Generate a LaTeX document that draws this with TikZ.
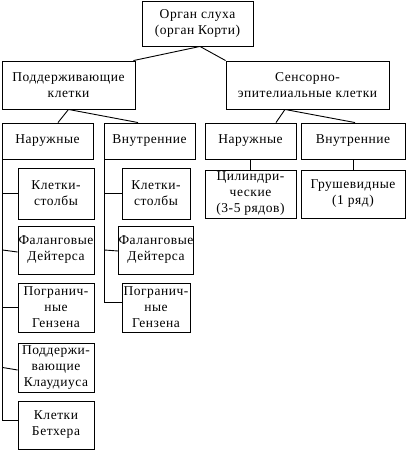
\documentclass[tikz,border=0pt]{standalone}
\usepackage{fontspec}
\setmainfont{Liberation Serif}[LetterSpace=4]
\begin{document}
\begin{tikzpicture}[x=1pt,y=-1pt,
  box/.style={draw=black,line width=0.9pt,align=center,inner sep=0pt,
    font=\fontsize{13.5}{16}\selectfont},
  link/.style={draw=black,line width=0.9pt}]
\useasboundingbox (0,0) rectangle (408,451);
\node[box,minimum width=111pt,minimum height=45pt] (top) at (197.5,23.5) {Орган слуха\\(орган Корти)};
\node[box,minimum width=133pt,minimum height=48pt] (pod) at (68.5,85) {Поддерживающие\\клетки};
\node[box,minimum width=163pt,minimum height=48pt] (sens) at (307.5,85) {Сенсорно-\\эпителиальные клетки};
\node[box,minimum width=91pt,minimum height=36pt] (nar1) at (47.5,141) {Наружные};
\node[box,minimum width=91pt,minimum height=36pt] (vnu1) at (149.5,141) {Внутренние};
\node[box,minimum width=91pt,minimum height=36pt] (nar2) at (250.5,141) {Наружные};
\node[box,minimum width=104pt,minimum height=36pt] (vnu2) at (353,141) {Внутренние};
\node[box,minimum width=91pt,minimum height=48pt] (cyl) at (250.5,194) {Цилиндри-\\ческие\\(3-5 рядов)};
\node[box,minimum width=104pt,minimum height=48pt] (gru) at (353,194) {Грушевидные\\(1 ряд)};
% left column
\node[box,minimum width=76pt,minimum height=51pt] (k1) at (56,193.5) {Клетки-\\столбы};
\node[box,minimum width=76pt,minimum height=48pt] (f1) at (56,250) {Фаланговые\\Дейтерса};
\node[box,minimum width=76pt,minimum height=49pt] (p1) at (56,307.5) {Погранич-\\ные\\Гензена};
\node[box,minimum width=76pt,minimum height=49pt] (c1) at (56,367.5) {Поддержи-\\вающие\\Клаудиуса};
\node[box,minimum width=76pt,minimum height=48pt] (b1) at (56,425) {Клетки\\Бетхера};
% middle column
\node[box,minimum width=68pt,minimum height=51pt] (k2) at (156,193.5) {Клетки-\\столбы};
\node[box,minimum width=68pt,minimum height=48pt] (f2) at (156,250) {Фаланговые\\Дейтерса};
\node[box,minimum width=68pt,minimum height=49pt] (p2) at (156,307.5) {Погранич-\\ные\\Гензена};
% connectors
\draw[link] ([xshift=2.5pt]top.south) -- ([xshift=-2pt]pod.north east);
\draw[link] ([xshift=2.5pt]top.south) -- (sens.north west);
\draw[link] (pod.south) -- ([xshift=10.5pt]nar1.north);
\draw[link] (pod.south) -- ([xshift=-11.5pt]vnu1.north);
\draw[link] ([xshift=-22.5pt]sens.south) -- ([xshift=25.5pt]nar2.north);
\draw[link] ([xshift=-22.5pt]sens.south) -- ([xshift=2pt]vnu2.north);
\draw[link] (nar2.south) -- (cyl.north);
\draw[link] (vnu2.south) -- (gru.north);
\coordinate (lv) at ([xshift=1pt]nar1.south west);
\draw[link] (lv) |- ([yshift=5pt]b1.west);
\draw[link] (lv |- k1.west) -- (k1.west);
\draw[link] (lv |- f1.west) -- ([yshift=-2pt]f1.west);
\draw[link] (lv |- p1.west) -- (p1.west);
\draw[link] (lv |- c1.west) -- ([yshift=-2.5pt]c1.west);
\coordinate (mv) at ([xshift=1pt]vnu1.south west);
\draw[link] (mv) |- ([yshift=5.5pt]p2.west);
\draw[link] (mv |- k2.west) -- (k2.west);
\draw[link] (mv |- f2.west) -- ([yshift=-1pt]f2.west);
\end{tikzpicture}
\end{document}
